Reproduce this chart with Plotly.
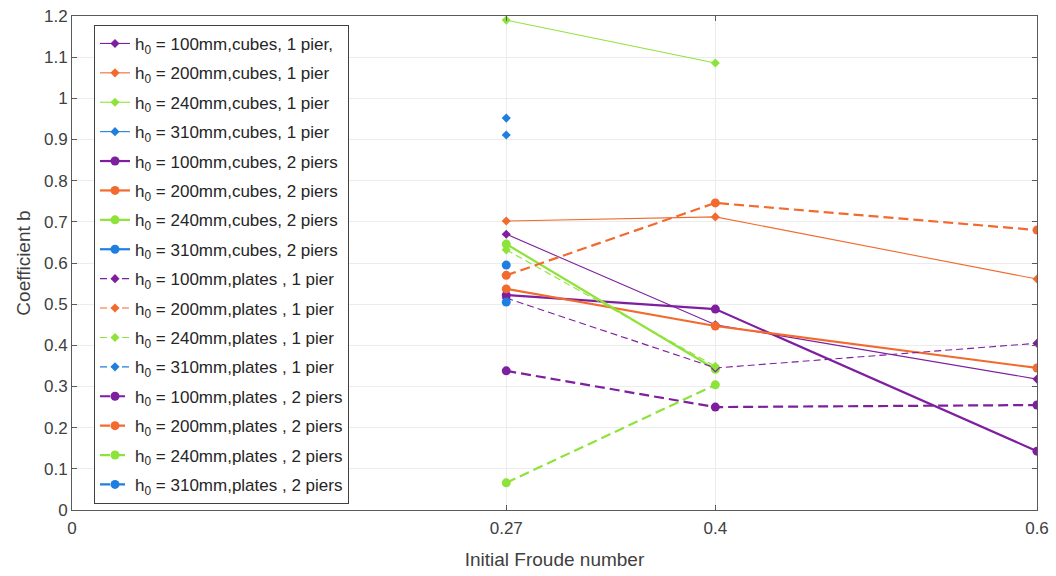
import plotly.graph_objects as go

froude = [0.27, 0.4, 0.6]

labels = [
    "h<sub>0</sub> = 100mm,cubes, 1 pier,",
    "h<sub>0</sub> = 200mm,cubes, 1 pier",
    "h<sub>0</sub> = 240mm,cubes, 1 pier",
    "h<sub>0</sub> = 310mm,cubes, 1 pier",
    "h<sub>0</sub> = 100mm,cubes, 2 piers",
    "h<sub>0</sub> = 200mm,cubes, 2 piers",
    "h<sub>0</sub> = 240mm,cubes, 2 piers",
    "h<sub>0</sub> = 310mm,cubes, 2 piers",
    "h<sub>0</sub> = 100mm,plates , 1 pier",
    "h<sub>0</sub> = 200mm,plates , 1 pier",
    "h<sub>0</sub> = 240mm,plates , 1 pier",
    "h<sub>0</sub> = 310mm,plates , 1 pier",
    "h<sub>0</sub> = 100mm,plates , 2 piers",
    "h<sub>0</sub> = 200mm,plates , 2 piers",
    "h<sub>0</sub> = 240mm,plates , 2 piers",
    "h<sub>0</sub> = 310mm,plates , 2 piers",
]

# values at Fr = 0.27, 0.4, 0.6 (None = not measured)
cubes_100_1 = [0.670, 0.450, 0.318]
cubes_200_1 = [0.702, 0.712, 0.561]
cubes_240_1 = [1.190, 1.086, None]
cubes_310_1 = [0.952, None, None]
cubes_100_2 = [0.522, 0.488, 0.143]
cubes_200_2 = [0.537, 0.447, 0.345]
cubes_240_2 = [0.646, 0.342, None]
cubes_310_2 = [0.595, None, None]
plates_100_1 = [0.515, 0.345, 0.405]
plates_200_1 = [None, None, None]
plates_240_1 = [0.632, 0.349, None]
plates_310_1 = [0.911, None, None]
plates_100_2 = [0.338, 0.250, 0.255]
plates_200_2 = [0.570, 0.746, 0.680]
plates_240_2 = [0.066, 0.304, None]
plates_310_2 = [0.505, None, None]

series = [cubes_100_1, cubes_200_1, cubes_240_1, cubes_310_1,
          cubes_100_2, cubes_200_2, cubes_240_2, cubes_310_2,
          plates_100_1, plates_200_1, plates_240_1, plates_310_1,
          plates_100_2, plates_200_2, plates_240_2, plates_310_2]

x_ticks = [0, 0.27, 0.4, 0.6]
x_ticklabels = ["0", "0.27", "0.4", "0.6"]
y_ticks = [0, 0.1, 0.2, 0.3, 0.4, 0.5, 0.6, 0.7, 0.8, 0.9, 1, 1.1, 1.2]
y_ticklabels = ["0", "0.1", "0.2", "0.3", "0.4", "0.5", "0.6", "0.7", "0.8", "0.9", "1", "1.1", "1.2"]

colors = ["#7E1FA0", "#F26A2E", "#8EE33A", "#1F7FE0"]

fig = go.Figure()
for i, (lab, vals) in enumerate(zip(labels, series)):
    c = colors[i % 4]
    two_piers = (i // 4) % 2 == 1
    plates = i >= 8
    if plates:
        dash = "10px,5px" if two_piers else "7px,4px"
    else:
        dash = "solid"
    fig.add_trace(go.Scatter(
        x=froude, y=vals, name=lab, mode="lines+markers",
        connectgaps=False, legendgroup="g%d" % i,
        line=dict(color=c, width=2.2 if two_piers else 1.1, dash=dash),
        marker=dict(color=c, symbol="circle" if two_piers else "diamond",
                    size=9 if two_piers else 7),
    ))

axis_common = dict(showline=True, linecolor="#5a5a5a", linewidth=1, mirror="ticks",
                   ticks="inside", ticklen=5, tickcolor="#5a5a5a", automargin=False,
                   showgrid=True, gridcolor="#ececec", gridwidth=1, zeroline=False,
                   tickfont=dict(family="Liberation Sans, Arial", size=17, color="#404040"))

fig.update_layout(
    width=1056, height=576,
    margin=dict(l=72, r=19, t=16, b=66),
    paper_bgcolor="white", plot_bgcolor="white",
    font=dict(family="Liberation Sans, Arial", color="#262626"),
    xaxis=dict(range=[0, 0.6], tickvals=x_ticks, ticktext=x_ticklabels,
               ticklabelstandoff=3,
               title=dict(text="Initial Froude number", font=dict(size=19, color="#404040"), standoff=15),
               **axis_common),
    yaxis=dict(range=[0, 1.2], tickvals=y_ticks, ticktext=y_ticklabels,
               title=dict(text="Coefficient b", font=dict(size=19, color="#404040"), standoff=8),
               **axis_common),
    legend=dict(x=0.0228, y=0.982, xanchor="left", yanchor="top",
                bgcolor="white", bordercolor="#404040", borderwidth=1,
                font=dict(size=17, color="#262626"), itemwidth=30,
                tracegroupgap=4.3),
    showlegend=True,
)

# remove the default 8px page margin so the figure fills the window exactly
fig.write_html("out.html", config={"displayModeBar": False},
               post_script="document.body.style.margin='0';")
